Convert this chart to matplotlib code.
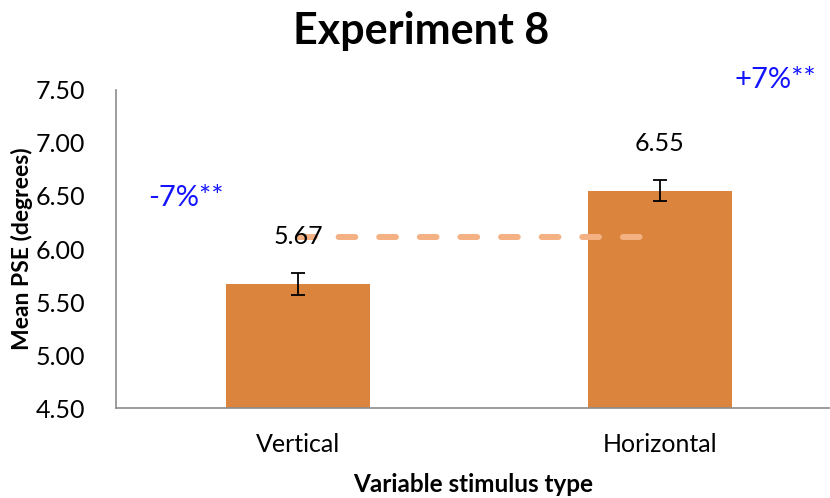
import matplotlib
matplotlib.use("Agg")
import matplotlib.pyplot as plt

# data
categories = ["Vertical", "Horizontal"]
means = [5.67, 6.55]
errors = [0.10, 0.10]
value_labels = ["5.67", "6.55"]
pct_labels = ["-7%**", "+7%**"]
baseline = 6.11          # dashed reference line
yticks = [4.50, 5.00, 5.50, 6.00, 6.50, 7.00, 7.50]

plt.rcParams['font.family'] = ['Lato', 'DejaVu Sans']

fig = plt.figure(figsize=(8.3, 4.98), dpi=100)
ax = fig.add_axes([0.1398, 0.1807, 0.8602, 0.6386])

x = range(len(categories))
ax.bar(x, means, width=0.4, color="#DB843D", zorder=2)
ax.errorbar(x, means, yerr=errors, fmt="none", ecolor="black",
            elinewidth=1.3, capsize=5, capthick=1.3, zorder=3)

# dashed line from the vertical bar across to the horizontal one
ax.plot([0, 0.945], [baseline, baseline], color="#F4B183", lw=4.3,
        dashes=(2.8, 4.0), dash_capstyle="round", zorder=4)

for i, (m, lab) in enumerate(zip(means, value_labels)):
    ax.annotate(lab, (i, m), xytext=(0, 34), textcoords="offset points",
                ha="center", va="center", fontsize=18, color="black",
                zorder=5)

# percent differences in blue
ax.text(-0.31, 6.48, pct_labels[0], color="#1414FF", fontsize=21,
        ha="center", va="center")
ax.text(1.32, 7.59, pct_labels[1], color="#1414FF", fontsize=21,
        ha="center", va="center", clip_on=False)

ax.set_xlim(-0.503, 1.47)
ax.set_ylim(4.5, 7.5)
ax.set_yticks(yticks)
ax.set_yticklabels([f"{t:.2f}" for t in yticks])
ax.set_xticks(list(x))
ax.set_xticklabels(categories)
ax.tick_params(axis="both", length=0, labelsize=18)
ax.tick_params(axis="x", pad=18)
ax.tick_params(axis="y", pad=22)

for s in ["top", "right"]:
    ax.spines[s].set_visible(False)
for s in ["left", "bottom"]:
    ax.spines[s].set_color("#8C8C8C")
    ax.spines[s].set_linewidth(1.2)

ax.set_ylabel("Mean PSE (degrees)", fontsize=16.5, fontweight="bold", labelpad=2)
ax.set_xlabel("Variable stimulus type", fontsize=17.5, fontweight="bold", labelpad=12)
fig.text(0.5077, 0.938, "Experiment 8", ha="center", va="center",
         fontsize=31, fontweight="bold")

fig.savefig("out.png", dpi=100)
